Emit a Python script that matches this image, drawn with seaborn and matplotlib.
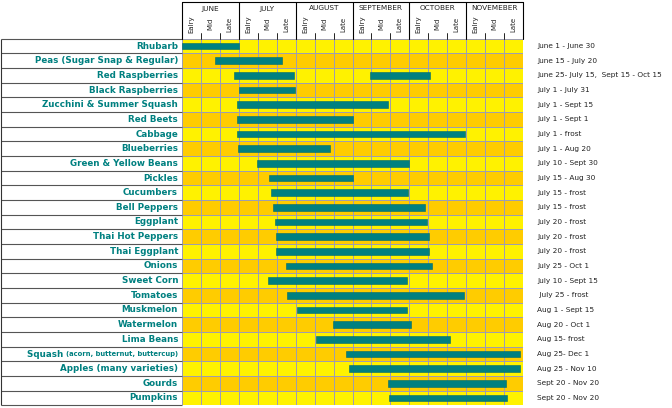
import numpy as np
import matplotlib
matplotlib.use("Agg")
import matplotlib.pyplot as plt
import seaborn as sns
from matplotlib.colors import ListedColormap
from matplotlib.transforms import blended_transform_factory

# datos de la tabla
crops = ["Rhubarb", "Peas (Sugar Snap & Regular)", "Red Raspberries", "Black Raspberries",
         "Zucchini & Summer Squash", "Red Beets", "Cabbage", "Blueberries",
         "Green & Yellow Beans", "Pickles", "Cucumbers", "Bell Peppers", "Eggplant",
         "Thai Hot Peppers", "Thai Eggplant", "Onions", "Sweet Corn", "Tomatoes",
         "Muskmelon", "Watermelon", "Lima Beans", "Squash", "Apples (many varieties)",
         "Gourds", "Pumpkins"]
dates = ["June 1 - June 30", "June 15 - July 20", "June 25- July 15,  Sept 15 - Oct 15",
         "July 1 - July 31", "July 1 - Sept 15", "July 1 - Sept 1", "July 1 - frost",
         "July 1 - Aug 20", "July 10 - Sept 30", "July 15 - Aug 30", "July 15 - frost",
         "July 15 - frost", "July 20 - frost", "July 20 - frost", "July 20 - frost",
         "July 25 - Oct 1", "July 10 - Sept 15", " July 25 - frost", "Aug 1 - Sept 15",
         "Aug 20 - Oct 1", "Aug 15- frost", "Aug 25- Dec 1", "Aug 25 - Nov 10",
         "Sept 20 - Nov 20", "Sept 20 - Nov 20"]
# posiciones en tercios de mes (0 = 1 de junio)
bar_start = [0.0, 1.74, 2.74, 3.0, 2.9, 2.9, 2.9, 2.95, 3.95, 4.58, 4.68, 4.79, 4.9,
             4.95, 4.95, 5.47, 4.53, 5.53, 6.09, 7.95, 7.09, 8.68, 8.79, 10.86, 10.93]
bar_end = [3.0, 5.3, 5.9, 5.95, 10.9, 9.05, 14.93, 7.8, 12.0, 9.0, 11.95, 12.84, 12.95,
           13.05, 13.05, 13.2, 11.9, 14.9, 11.88, 12.1, 14.14, 17.84, 17.84, 17.09, 17.14]
second_crop = ["Red Raspberries"]
second_start = [9.9]
second_end = [13.1]

months = ["JUNE", "JULY", "AUGUST", "SEPTEMBER", "OCTOBER", "NOVEMEBER"]
periods = ["Ealry", "Mid", "Late"]

YELLOW = "#FFF200"
ORANGE = "#FFCC00"
TEAL = "#008080"

sns.set_theme(style="white")
plt.rcParams['font.family'] = ['DejaVu Sans']

fig = plt.figure(figsize=(6.72, 4.08), dpi=100)
W, H = 672, 408
x0, x1, y0, y1 = 182, 523, 38.7, 405.3
ax = fig.add_axes([x0 / W, 1 - y1 / H, (x1 - x0) / W, (y1 - y0) / H])

n_rows = len(crops)
n_cols = len(months) * len(periods)
shade = np.tile((np.arange(n_rows) % 2)[:, None], (1, n_cols))
sns.heatmap(shade, cmap=ListedColormap([YELLOW, ORANGE]), cbar=False,
            linewidths=0.7, linecolor="#9e9eae", ax=ax)
ax.set_xticks([])
ax.set_yticks([])
for s in ax.spines.values():
    s.set_visible(False)

# barras de temporada
yc = np.arange(n_rows) + 0.5
ax.barh(yc, np.array(bar_end) - np.array(bar_start), left=bar_start, height=0.47,
        color=TEAL, edgecolor="#006a6a", linewidth=0.4, zorder=3)
for c, s0, s1 in zip(second_crop, second_start, second_end):
    i = crops.index(c)
    ax.barh(yc[i], s1 - s0, left=s0, height=0.47, color=TEAL,
            edgecolor="#006a6a", linewidth=0.4, zorder=3)

# etiquetas a la izquierda
px = (x1 - x0) / n_cols
left_edge = -x0 / px + 0.05
lbl_x = -4 / px
for i, c in enumerate(crops):
    if c == "Squash":
        t = ax.text(lbl_x, yc[i], "(acorn, butternut, buttercup)", ha="right", va="center",
                    fontsize=4.9, fontweight="bold", color=TEAL, clip_on=False)
        ax.annotate("Squash ", xy=(0, 0.42), xycoords=t, ha="right", va="center",
                    fontsize=6.3, fontweight="bold", color=TEAL, annotation_clip=False)
    else:
        ax.text(lbl_x, yc[i], c, ha="right", va="center", fontsize=6.3,
                fontweight="bold", color=TEAL, clip_on=False)
    ax.text(n_cols + 14 / px, yc[i], dates[i], ha="left", va="center",
            fontsize=5.35, color="#222222", clip_on=False)

# lineas de la zona de etiquetas
ax.hlines(np.arange(n_rows + 1), left_edge, 0, colors="#555555", linewidth=0.8,
          clip_on=False)
ax.vlines(left_edge, 0, n_rows, colors="#333333", linewidth=0.8, clip_on=False)

# cabecera
tr = blended_transform_factory(ax.transData, ax.transAxes)
hh = y1 - y0
def fy(ypx):
    return 1 + (y0 - ypx) / hh

ax.plot([0, n_cols], [fy(2), fy(2)], color="black", lw=0.8, transform=tr, clip_on=False)
for m in range(len(months) + 1):
    ax.plot([m * 3, m * 3], [fy(2), 1], color="black", lw=0.8, transform=tr, clip_on=False)
for j in range(n_cols):
    if j % 3:
        ax.plot([j, j], [fy(33), 1], color="black", lw=0.6, transform=tr, clip_on=False)
for m, name in enumerate(months):
    ax.text(m * 3 + 1.5, fy(8.5), name, ha="center", va="center", fontsize=5.3,
            color="#222222", transform=tr)
    for k, p in enumerate(periods):
        ax.text(m * 3 + k + 0.5, fy(24), p, ha="center", va="center", rotation=90,
                fontsize=5.0, color="#222222", transform=tr)

fig.savefig("out.png", dpi=100)
